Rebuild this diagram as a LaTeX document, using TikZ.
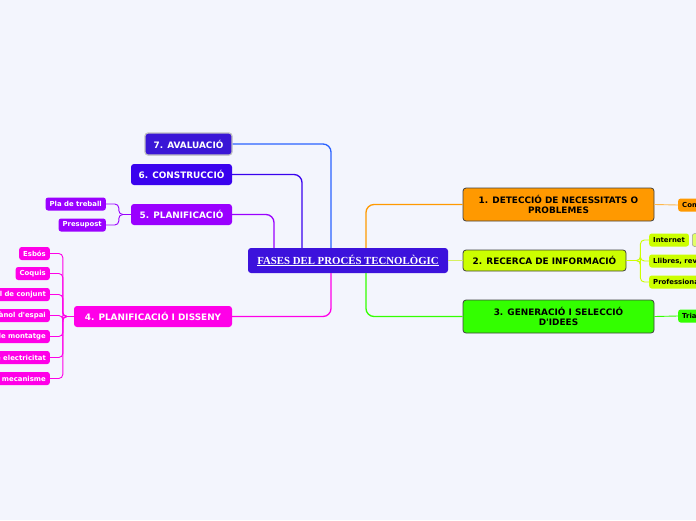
\documentclass[tikz,border=0pt]{standalone}
\usepackage{fontspec}
\setmainfont{Liberation Serif}
\newfontfamily\verd{DejaVu Sans}
\usepackage{xcolor}
\usetikzlibrary{positioning, calc}

\definecolor{fondo}{HTML}{F3F5FD}
\definecolor{central}{HTML}{3C12DC}
\definecolor{avalc}{HTML}{3A16D6}
\definecolor{avall}{HTML}{2A62FF}
\definecolor{constc}{HTML}{3A02EE}
\definecolor{planc}{HTML}{9A00FF}
\definecolor{dissc}{HTML}{FF00E8}
\definecolor{detc}{HTML}{FF9900}
\definecolor{recc}{HTML}{CCFF00}
\definecolor{recl}{HTML}{D6F060}
\definecolor{genc}{HTML}{33FF00}

\tikzset{
    fase/.style={rounded corners=3, minimum height=21, inner sep=2,
        font=\verd\bfseries\fontsize{8.9}{10}\selectfont, align=center},
    faseL/.style={fase, fill=#1, text=white},
    faseR/.style={fase, fill=#1, draw=black!75, line width=0.8, text=black},
    fulla/.style={rounded corners=2.5, minimum height=13, inner xsep=4, inner ysep=1,
        font=\verd\bfseries\fontsize{6.9}{7.5}\selectfont, fill=#1},
    branca/.style={line width=1.3, rounded corners=8, #1},
    rama/.style={line width=0.9, rounded corners=4, #1}
}

\begin{document}
\begin{tikzpicture}[x=1pt, y=-1pt]
    % fons
    \fill[fondo] (0,0) rectangle (696,520);
    \useasboundingbox (0,0) rectangle (696,520);
    \clip (0,0) rectangle (696,520);

    % node central
    \node[fill=central, rounded corners=3, minimum width=200, minimum height=25,
        text=white, font=\bfseries\fontsize{10.8}{12}\selectfont]
        (fases) at (348,260.5) {\underline{FASES DEL PROCÉS TECNOLÒGIC}};

    % fases de l'esquerra
    \node[faseL=avalc, minimum width=87, draw=black!25, line width=1.2, minimum height=22]
        (aval) at (188.5,144) {7. AVALUACIÓ};
    \node[faseL=constc, minimum width=101] (constr) at (181.5,174.5) {6. CONSTRUCCIÓ};
    \node[faseL=planc, minimum width=101] (planif) at (181.5,214.5) {5. PLANIFICACIÓ};
    \node[faseL=dissc, minimum width=158] (disseny) at (153,316.5) {4. PLANIFICACIÓ I DISSENY};

    % fases de la dreta
    \node[faseR=detc, minimum width=191, minimum height=33] (detec) at (558.5,204.5)
        {1. DETECCIÓ DE NECESSITATS O\\PROBLEMES};
    \node[faseR=recc, minimum width=163] (recerca) at (544.5,260.5) {2. RECERCA DE INFORMACIÓ};
    \node[faseR=genc, minimum width=191, minimum height=33] (genera) at (558.5,316.5)
        {3. GENERACIÓ I SELECCIÓ\\D'IDEES};

    % branques principals
    \draw[branca=avall] (aval.east) -| ($(fases.north)+(-17,0)$);
    \draw[branca=constc] (constr.east) -| ($(fases.north)+(-46,0)$);
    \draw[branca=planc] (planif.east) -| ($(fases.north)+(-74,0)$);
    \draw[branca=dissc] (disseny.east) -| ($(fases.south)+(-17,0)$);
    \draw[branca=detc] (detec.west) -| ($(fases.north)+(18,0)$);
    \draw[branca=recl] (fases.east) -- (recerca.west);
    \draw[branca=genc] (genera.west) -| ($(fases.south)+(18,0)$);

    % fulles de 5
    \node[fulla=planc, text=white, anchor=east] (pla) at (106,204) {Pla de treball};
    \node[fulla=planc, text=white, anchor=east] (presu) at (106,225) {Presupost};
    \draw[rama=planc] (planif.west) -- ++(-12,0) |- (pla.east);
    \draw[rama=planc] (planif.west) -- ++(-12,0) |- (presu.east);

    % fulles de 4
    \node[fulla=dissc, text=white, anchor=east] (esbos) at (50,253.5) {Esbós};
    \node[fulla=dissc, text=white, anchor=east] (coquis) at (50,273.5) {Coquis};
    \node[fulla=dissc, text=white, anchor=east] (conjunt) at (50,294.5) {Plànol de conjunt};
    \node[fulla=dissc, text=white, anchor=east] (espai) at (50,315.5) {Plànol d'espai};
    \node[fulla=dissc, text=white, anchor=east] (montatge) at (50,336.5) {Plànol de montatge};
    \node[fulla=dissc, text=white, anchor=east] (electr) at (50,357.5) {Plànol de electricitat};
    \node[fulla=dissc, text=white, anchor=east] (mecan) at (50,378.5) {Plànol de mecanisme};
    \foreach \f in {esbos, coquis, conjunt, espai, montatge, electr, mecan}
        \draw[rama=dissc] (disseny.west) -- ++(-11,0) |- (\f.east);

    % fulles de 1, 2 i 3
    \node[fulla=detc, anchor=west, text width=40, align=left] (com) at (678,205) {Com};
    \draw[rama=detc!70] (detec.east) -- (com.west);
    \node[fulla=recc, anchor=west] (internet) at (649,240) {Internet};
    \node[fulla=recc!60, draw=black!40, line width=0.5, anchor=west, minimum width=20]
        (web) at (692,240) {};
    \node[fulla=recc, anchor=west] (llibres) at (649,261) {Llibres, revistes};
    \node[fulla=recc, anchor=west] (profes) at (649,282) {Professionals};
    \foreach \f in {internet, llibres, profes}
        \draw[rama=recc] (recerca.east) -- ++(14,0) |- (\f.west);
    \node[fulla=genc, anchor=west, text width=40, align=left] (tria) at (678,316) {Tria};
    \draw[rama=genc] (genera.east) -- (tria.west);
\end{tikzpicture}
\end{document}
